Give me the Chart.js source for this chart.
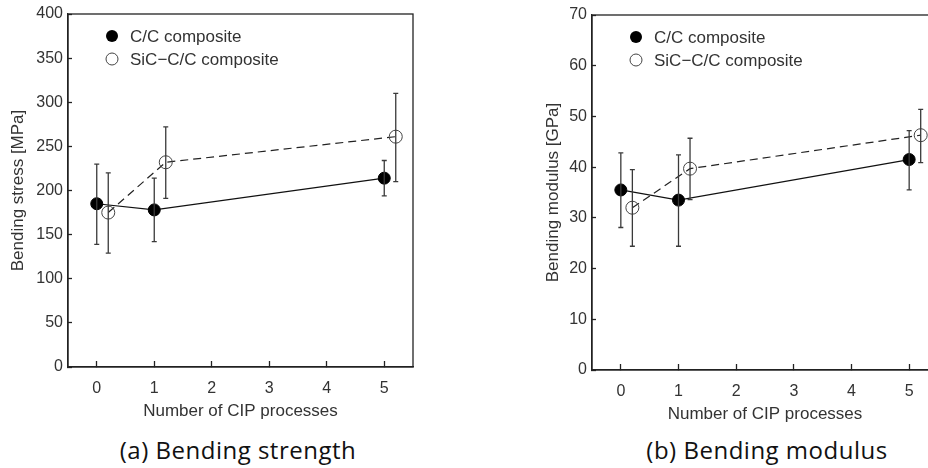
<!DOCTYPE html>
<html>
<head>
<meta charset="utf-8">
<script src="https://cdn.jsdelivr.net/npm/chart.js@4"></script>
<style>
  html, body { margin: 0; padding: 0; background: #fff; }
  body { width: 928px; height: 468px; overflow: hidden; position: relative; }
  canvas { position: absolute; top: 0; }
  #strengthChart { left: 0; }
  #modulusChart { left: 535px; }
  .caption {
    position: absolute; top: 433px; width: 300px; text-align: center;
    font-family: "Open Sans", Lato, sans-serif; font-size: 24px; letter-spacing: 0.5px; color: #111;
  }
</style>
</head>
<body>
<canvas id="strengthChart" width="464" height="425"></canvas>
<canvas id="modulusChart" width="470" height="428"></canvas>
<div class="caption" style="left: 88px;">(a) Bending strength</div>
<div class="caption" style="left: 617px;">(b) Bending modulus</div>

<script>
// x positions (number of CIP processes); SiC points are drawn slightly offset
const cipCC = [0, 1, 5];
const cipSiC = [0.2, 1.2, 5.2];
const xTicks = [0, 1, 2, 3, 4, 5];

// (a) bending strength [MPa]
const strengthCC = [185, 178, 214];
const strengthCCLow = [139, 142, 194];
const strengthCCHigh = [230, 214, 234];
const strengthSiC = [175, 232, 261];
const strengthSiCLow = [129, 191, 210];
const strengthSiCHigh = [220, 272, 310];
const strengthTicks = [0, 50, 100, 150, 200, 250, 300, 350, 400];

// (b) bending modulus [GPa]
const modulusCC = [35.5, 33.5, 41.5];
const modulusCCLow = [28.1, 24.4, 35.5];
const modulusCCHigh = [42.8, 42.4, 47.2];
const modulusSiC = [32.0, 39.7, 46.3];
const modulusSiCLow = [24.4, 33.6, 40.9];
const modulusSiCHigh = [39.5, 45.7, 51.4];
const modulusTicks = [0, 10, 20, 30, 40, 50, 60, 70];

const seriesLabels = ['C/C composite', 'SiC\u2212C/C composite'];

Chart.defaults.font.family = '"Liberation Sans", Arial, sans-serif';
Chart.defaults.color = '#333';

const toPoints = (xs, ys) => xs.map((x, i) => ({ x: x, y: ys[i] }));

// draw vertical error bars with small caps, on top of the markers
const errorBars = {
  id: 'errorBars',
  afterDatasetsDraw(chart) {
    const ctx = chart.ctx;
    const xs = chart.scales.x, ys = chart.scales.y;
    ctx.save();
    ctx.strokeStyle = '#3a3a3a';
    ctx.lineWidth = 1.3;
    chart.data.datasets.forEach(ds => {
      ds.data.forEach((p, i) => {
        const px = xs.getPixelForValue(p.x);
        const lo = ys.getPixelForValue(ds.errLow[i]);
        const hi = ys.getPixelForValue(ds.errHigh[i]);
        ctx.beginPath();
        ctx.moveTo(px, lo); ctx.lineTo(px, hi);
        ctx.moveTo(px - 2.5, lo); ctx.lineTo(px + 2.5, lo);
        ctx.moveTo(px - 2.5, hi); ctx.lineTo(px + 2.5, hi);
        ctx.stroke();
      });
    });
    ctx.restore();
  }
};

// box around the plot area and the legend inside it
const frameAndLegend = {
  id: 'frameAndLegend',
  afterDraw(chart) {
    const ctx = chart.ctx;
    const a = chart.chartArea;
    ctx.save();
    ctx.strokeStyle = '#222';
    ctx.lineWidth = 1.3;
    ctx.strokeRect(a.left, a.top, a.right - a.left, a.bottom - a.top);

    ctx.font = '17px "Liberation Sans", Arial, sans-serif';
    ctx.textBaseline = 'middle';
    chart.data.datasets.forEach((ds, i) => {
      const mx = a.left + 44, my = a.top + 22 + i * 23;
      ctx.beginPath();
      ctx.arc(mx, my, 6, 0, Math.PI * 2);
      if (ds.pointBackgroundColor !== 'rgba(0,0,0,0)') {
        ctx.fillStyle = '#000';
        ctx.fill();
      } else {
        ctx.strokeStyle = '#444';
        ctx.lineWidth = 1;
        ctx.stroke();
      }
      ctx.fillStyle = '#333';
      ctx.fillText(ds.label, a.left + 62, my + 1);
    });
    ctx.restore();
  }
};

function makeChart(id, cc, ccLow, ccHigh, sic, sicLow, sicHigh, yTicks, yTitle, layout) {
  return new Chart(document.getElementById(id), {
    type: 'scatter',
    data: {
      datasets: [
        {
          label: seriesLabels[0],
          data: toPoints(cipCC, cc),
          errLow: ccLow, errHigh: ccHigh,
          showLine: true,
          borderColor: '#111',
          borderWidth: 1.2,
          pointRadius: 6,
          pointBackgroundColor: '#000',
          pointBorderColor: '#000',
          pointBorderWidth: 1
        },
        {
          label: seriesLabels[1],
          data: toPoints(cipSiC, sic),
          errLow: sicLow, errHigh: sicHigh,
          showLine: true,
          borderColor: '#222',
          borderWidth: 1.2,
          borderDash: [8, 5],
          pointRadius: 6.5,
          pointBackgroundColor: 'rgba(0,0,0,0)',
          pointBorderColor: '#444',
          pointBorderWidth: 1
        }
      ]
    },
    options: {
      responsive: false,
      animation: false,
      devicePixelRatio: 1,
      layout: { padding: layout.padding },
      plugins: { legend: { display: false }, tooltip: { enabled: false } },
      scales: {
        x: {
          type: 'linear',
          min: -0.5, max: 5.5,
          afterBuildTicks: s => { s.ticks = xTicks.map(v => ({ value: v })); },
          afterFit: s => { s.height = 58; s.paddingLeft = 0; s.paddingRight = 0; },
          grid: { drawOnChartArea: false, tickLength: -6, tickColor: '#222', tickWidth: 1.3 },
          border: { color: '#222', width: 1.3 },
          ticks: { padding: 18, font: { size: 16 }, color: '#333' },
          title: { display: true, text: 'Number of CIP processes', font: { size: 17 }, color: '#333', padding: { top: 0, bottom: 3 } }
        },
        y: {
          type: 'linear',
          min: yTicks[0], max: yTicks[yTicks.length - 1],
          afterBuildTicks: s => { s.ticks = yTicks.map(v => ({ value: v })); },
          afterFit: s => { s.width = layout.yWidth; s.paddingTop = 0; s.paddingBottom = 0; },
          grid: { drawOnChartArea: false, tickLength: -4, tickColor: '#222', tickWidth: 1.3 },
          border: { color: '#222', width: 1.3 },
          ticks: { padding: 9, font: { size: 16 }, color: '#333' },
          title: { display: true, text: yTitle, font: { size: 17 }, color: '#333', padding: { top: 8, bottom: 0 } }
        }
      }
    },
    plugins: [errorBars, frameAndLegend]
  });
}

makeChart('strengthChart', strengthCC, strengthCCLow, strengthCCHigh,
  strengthSiC, strengthSiCLow, strengthSiCHigh, strengthTicks, 'Bending stress [MPa]',
  { padding: { left: 0, top: 14, right: 51, bottom: 0 }, yWidth: 68 });

makeChart('modulusChart', modulusCC, modulusCCLow, modulusCCHigh,
  modulusSiC, modulusSiCLow, modulusSiCHigh, modulusTicks, 'Bending modulus [GPa]',
  { padding: { left: 0, top: 15, right: 67, bottom: 0 }, yWidth: 57 });
</script>
</body>
</html>
